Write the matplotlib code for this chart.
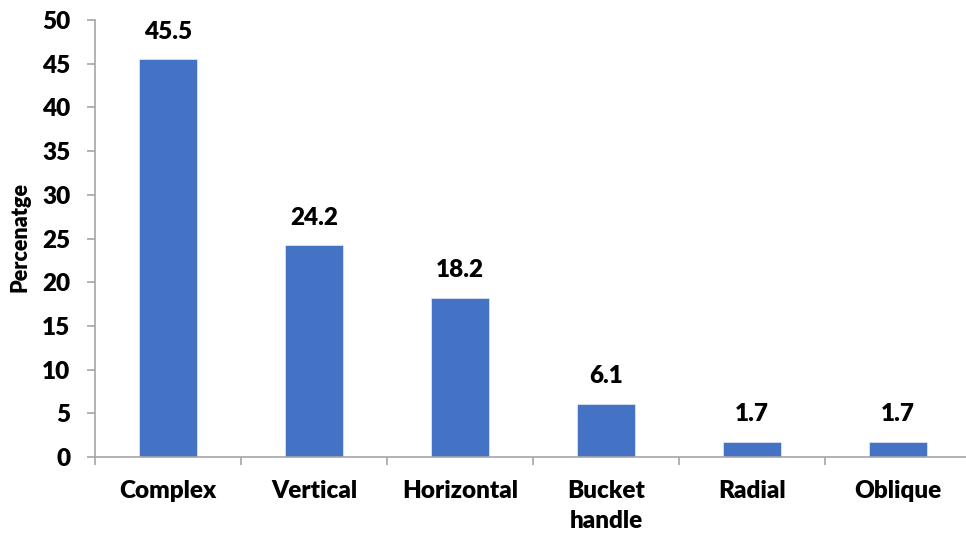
import matplotlib
matplotlib.use("Agg")
import matplotlib.pyplot as plt
from matplotlib.ticker import FixedLocator

categories = ["Complex", "Vertical", "Horizontal", "Bucket\nhandle", "Radial", "Oblique"]
percentages = [45.5, 24.2, 18.2, 6.1, 1.7, 1.7]
y_ticks = [0, 5, 10, 15, 20, 25, 30, 35, 40, 45, 50]

plt.rcParams["font.family"] = ["Lato", "DejaVu Sans"]
plt.rcParams["font.weight"] = "heavy"

bar_color = "#4472C4"
axis_color = "#A6A6A6"
W = "heavy"

fig = plt.figure(figsize=(9.66, 5.38), dpi=100)
ax = fig.add_axes([95 / 966, 81 / 538, 876 / 966, 437 / 538])

x = list(range(len(categories)))
ax.bar(x, percentages, width=0.4, color=bar_color, edgecolor="#DCE4F2", linewidth=0.6, zorder=2)

for xi, v in zip(x, percentages):
    ax.annotate(f"{v}", (xi, v), xytext=(0, 12), textcoords="offset points",
                ha="center", va="bottom", fontsize=17.5, fontweight=W, color="black")

ax.set_xlim(-0.5, len(categories) - 0.5)
ax.set_ylim(0, 50)
ax.set_yticks(y_ticks)
ax.set_yticklabels([str(t) for t in y_ticks])

ax.set_xticks(x)
ax.set_xticklabels(categories, linespacing=1.45)
ax.xaxis.set_minor_locator(FixedLocator([i - 0.5 for i in range(len(categories) + 1)]))

ax.tick_params(axis="x", which="major", length=0, pad=16.5, labelsize=17.5)
ax.tick_params(axis="x", which="minor", length=5.5, width=1.2, color=axis_color, direction="out")
ax.tick_params(axis="y", which="major", length=5.8, width=1.2, color=axis_color, direction="out",
               pad=12, labelsize=17.5)

for lab in ax.get_xticklabels() + ax.get_yticklabels():
    lab.set_fontweight(W)

for side in ["top", "right"]:
    ax.spines[side].set_visible(False)
for side in ["left", "bottom"]:
    ax.spines[side].set_color(axis_color)
    ax.spines[side].set_linewidth(1.2)

fig.text(20 / 966, 1 - 237 / 538, "Percenatge", rotation=90, ha="center", va="center",
         fontsize=15.5, fontweight=W)

fig.savefig("out.png", dpi=100)
